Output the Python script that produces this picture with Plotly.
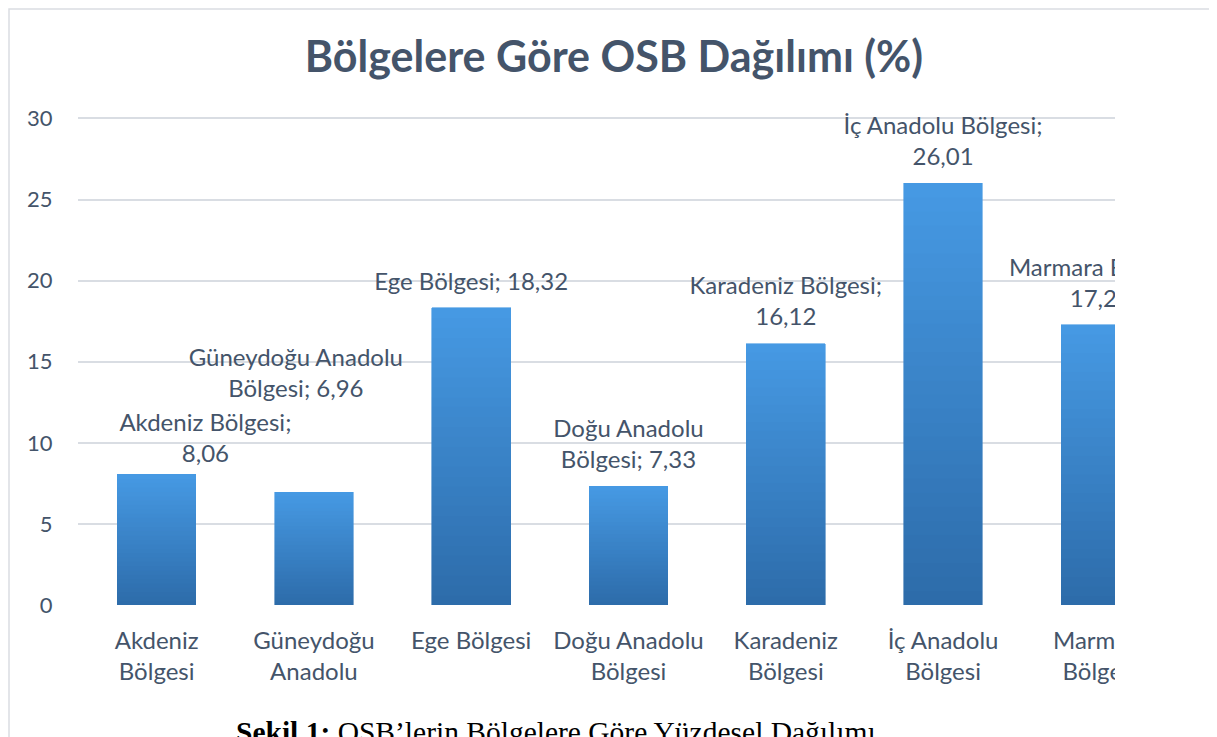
import textwrap
import plotly.graph_objects as go

# ---- data ----
regions = ["Akdeniz Bölgesi", "Güneydoğu Anadolu Bölgesi", "Ege Bölgesi",
           "Doğu Anadolu Bölgesi", "Karadeniz Bölgesi", "İç Anadolu Bölgesi",
           "Marmara Bölgesi"]
shares = [8.06, 6.96, 18.32, 7.33, 16.12, 26.01, 17.27]
tick_labels = ["Akdeniz<br>Bölgesi", "Güneydoğu<br>Anadolu", "Ege Bölgesi",
               "Doğu Anadolu<br>Bölgesi", "Karadeniz<br>Bölgesi",
               "İç Anadolu<br>Bölgesi", "Marmara<br>Bölgesi"]
y_ticks = [0, 5, 10, 15, 20, 25, 30]
title_text = "Bölgelere Göre OSB Dağılımı (%)"
caption_bold = "Şekil 1:"
caption_rest = "OSB’lerin Bölgelere Göre Yüzdesel Dağılımı"

# ---- styling / layout (pixels, in page coordinates; page has 8px body margin) ----
OFF = 8
W, H = 1217, 737
PL, PR = 78 - OFF, 1179 - OFF   # plot left / (virtual) right
PB = 605 - OFF                  # y = 0
YMAX = 32
PT = 86 - OFF                   # top of plot area
TEXT = "#44546A"
GRID = "#D9DDE3"
FONT = "Lato"
top_col = (70, 153, 227)
bot_col = (45, 108, 170)
N_SEG = 30

def px_x(p):
    return (p - OFF - PL) / (PR - PL)

def px_y(p):
    return (PB - (p - OFF)) / (PB - PT)

def fmt(v):
    return f"{v:.2f}".replace(".", ",")

labels = ["<br>".join(textwrap.wrap(f"{r}; {fmt(v)}", 19)) for r, v in zip(regions, shares)]
# label offsets (style): x in category units, y in value units
lab_dx = [0.31, -0.115, 0, 0, 0, 0, 0]
lab_dy = [0.38, 5.5, 0.75, 0.75, 0.75, 0.75, 0.75]

idx = list(range(len(regions)))
fig = go.Figure()

# gradient bars built as stacked slices of each bar
for k in range(N_SEG):
    t = k / (N_SEG - 1)
    c = tuple(round(b + (a - b) * t) for a, b in zip(top_col, bot_col))
    fig.add_trace(go.Bar(
        x=idx, y=[v / N_SEG for v in shares],
        marker=dict(color=f"rgb{c}", line=dict(width=0.6, color=f"rgb{c}")),
        width=0.5, showlegend=False, hoverinfo="skip"))

fig.add_trace(go.Scatter(
    x=[i + d for i, d in zip(idx, lab_dx)],
    y=[v + d for v, d in zip(shares, lab_dy)],
    mode="text", text=labels, textposition="top center",
    textfont=dict(family=FONT, size=24, color=TEXT),
    cliponaxis=False, showlegend=False, hoverinfo="skip"))

fig.update_layout(
    width=W, height=H,
    margin=dict(l=PL, r=W - PR, t=PT, b=H - PB),
    paper_bgcolor="white", plot_bgcolor="white",
    barmode="stack", bargap=0.5,
    title=dict(text=f"<b>{title_text}</b>", x=(614 - OFF) / W, xref="container",
               xanchor="center", y=1 - (57 - OFF) / H, yref="container", yanchor="middle",
               font=dict(family=FONT, size=43, color=TEXT)),
    font=dict(family=FONT, color=TEXT),
    xaxis=dict(range=[-0.5, 6.5], tickvals=idx, ticktext=tick_labels,
               showgrid=False, zeroline=False, showline=False,
               ticks="outside", ticklen=14, tickcolor="rgba(0,0,0,0)",
               tickfont=dict(family=FONT, size=24, color=TEXT)),
    yaxis=dict(range=[0, YMAX], tickvals=y_ticks, showgrid=True,
               gridcolor=GRID, gridwidth=1.5, zeroline=False, showline=False,
               ticks="outside", ticklen=20, tickcolor="rgba(0,0,0,0)",
               tickfont=dict(family=FONT, size=22, color=TEXT)),
    shapes=[
        # clip region on the right (chart is cropped in the reference)
        dict(type="rect", xref="paper", yref="paper", layer="above",
             x0=px_x(1115), x1=px_x(1209), y0=px_y(705), y1=px_y(90),
             fillcolor="white", line=dict(width=0)),
        # outer frame
        dict(type="rect", xref="paper", yref="paper", layer="above",
             x0=px_x(OFF + 1), x1=px_x(1212), y0=px_y(760), y1=px_y(OFF + 1),
             fillcolor="rgba(0,0,0,0)", line=dict(width=1.5, color="#DADDE2")),
    ],
    annotations=[dict(
        text=f"<b>{caption_bold}</b> {caption_rest}",
        xref="paper", yref="paper", x=px_x(234), y=px_y(714),
        xanchor="left", yanchor="top", showarrow=False,
        font=dict(family="Liberation Serif", size=29.5, color="black"))],
)

fig.write_html("out.html")
